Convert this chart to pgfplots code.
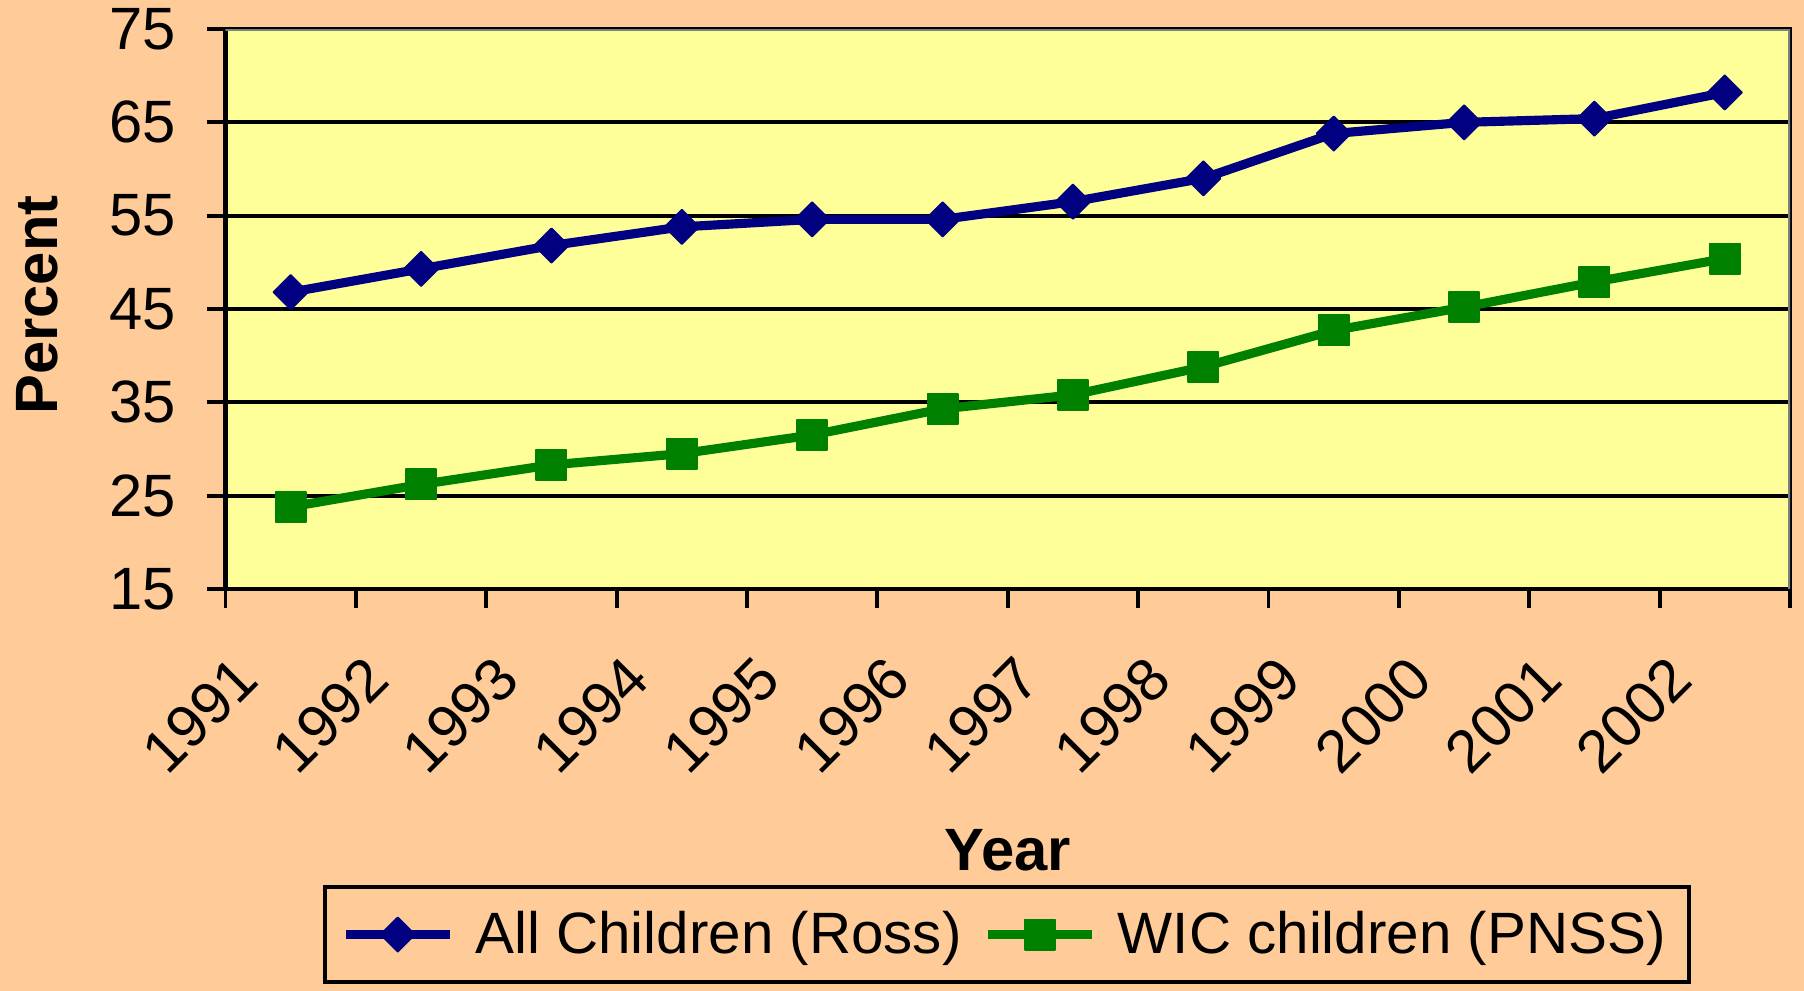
\documentclass[border=0pt]{standalone}
\usepackage{pgfplots}
\pgfplotsset{compat=1.18}
\usepackage{fontspec}
\setmainfont{Liberation Sans}
\definecolor{peach}{HTML}{FFCC99}
\definecolor{pyellow}{HTML}{FFFF99}
\definecolor{navyb}{HTML}{000080}
\definecolor{greenb}{HTML}{008000}
\pgfplotstableread{
x all wic
0 46.8 23.8
1 49.3 26.2
2 51.8 28.3
3 53.8 29.5
4 54.6 31.5
5 54.6 34.3
6 56.5 35.8
7 59.0 38.8
8 63.8 42.7
9 65.0 45.2
10 65.4 47.9
11 68.2 50.4
}\datatable
\begin{document}
\begin{tikzpicture}
\fill[peach] (0,0) rectangle (180.4mm,99.1mm);
\begin{axis}[
  at={(22.55mm,40.2mm)}, anchor=south west,
  scale only axis, width=156.45mm, height=56.0mm,
  xmin=-0.5, xmax=11.5, ymin=15, ymax=75,
  ytick={15,25,...,75},
  xtick={-0.5,0.5,...,11.5},
  xticklabels={},
  extra x ticks={0,...,11},
  extra x tick labels={1991,1992,1993,1994,1995,1996,1997,1998,1999,2000,2001,2002},
  extra x tick style={major tick length=0pt, tick style={draw=none}},
  x tick style={black, line width=1.1pt},
  major tick length=1.9mm,
  ytick style={black, line width=1.1pt},
  tick align=outside,
  tick pos=left,
  ymajorgrids,
  grid style={black, line width=1.1pt},
  axis line style={black, line width=1.2pt},
  axis background/.style={fill=pyellow},
  /pgf/number format/assume math mode=true,
  ticklabel style={font=\fontsize{17}{17}\selectfont},
  xticklabel style={xshift=-2.9mm, yshift=-9.3mm, rotate=45, anchor=base east, inner sep=0pt},
  yticklabel style={xshift=-1.8mm},
  xlabel={\textbf{Year}},
  ylabel={\textbf{Percent}},
  label style={font=\fontsize{17}{17}\selectfont},
  xlabel style={at={(axis description cs:0.5,-0.466)}, anchor=center},
  ylabel style={at={(axis description cs:-0.1205,0.507)}, anchor=center, rotate=0},
  legend columns=2,
  legend style={at={(axis description cs:0.4995,-0.528)}, anchor=north,
    fill=peach, draw=black, line width=1.2pt,
    font=\fontsize{16.6}{16.6}\selectfont,
    inner xsep=1.6mm, inner ysep=1.7mm,
    /tikz/every even column/.append style={column sep=1.5mm},
    /tikz/every odd column/.append style={column sep=1.4mm}},
  legend image code/.code={\draw[mark repeat=2,mark phase=2] plot coordinates {(0cm,0cm) (0.52cm,0cm) (1.04cm,0cm)};},
]
\addplot[navyb, line width=2.6pt, mark=square*, mark size=3.45pt, mark options={solid, rotate=45, line width=0.5pt, line join=round}] table[x=x,y=all] {\datatable};
\addlegendentry{All Children (Ross)}
\addplot[greenb, line width=2.6pt, mark=square*, mark size=4.3pt, mark options={solid, line width=0.5pt, line join=round}] table[x=x,y=wic] {\datatable};
\addlegendentry{WIC children (PNSS)}
\draw[gray, line width=1.1pt] (rel axis cs:0,1) -- (rel axis cs:1,1) -- (rel axis cs:1,0);
\end{axis}
\pgfresetboundingbox
\useasboundingbox (0,0) rectangle (180.4mm,99.1mm);
\end{tikzpicture}
\end{document}
